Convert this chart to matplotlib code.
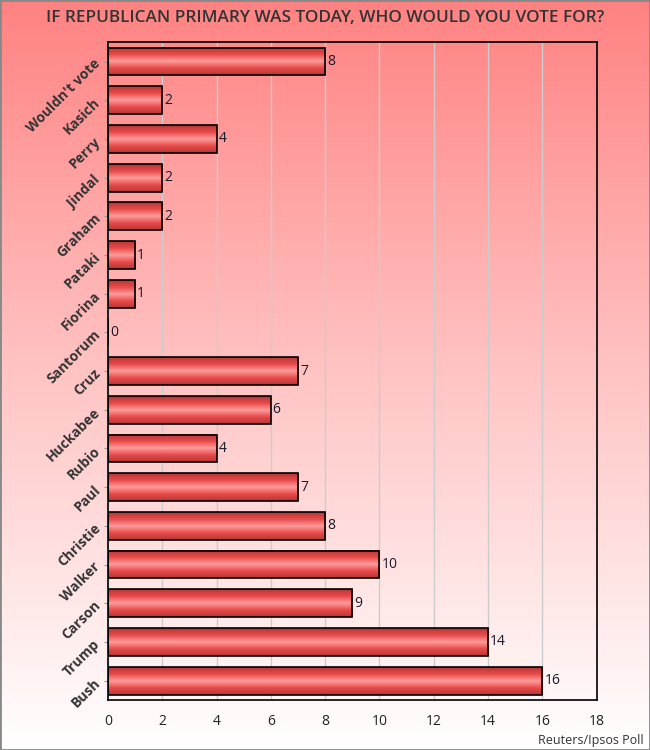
import numpy as np
import matplotlib
matplotlib.use('Agg')
import matplotlib.pyplot as plt
from matplotlib.colors import LinearSegmentedColormap

# Poll data, top to bottom as shown
candidates = ["Wouldn't vote", 'Kasich', 'Perry', 'Jindal', 'Graham', 'Pataki', 'Fiorina',
              'Santorum', 'Cruz', 'Huckabee', 'Rubio', 'Paul', 'Christie', 'Walker',
              'Carson', 'Trump', 'Bush']
votes = [8, 2, 4, 2, 2, 1, 1, 0, 7, 6, 4, 7, 8, 10, 9, 14, 16]
x_ticks = [0, 2, 4, 6, 8, 10, 12, 14, 16, 18]

plt.rcParams['font.family'] = ['Open Sans', 'DejaVu Sans']

fig = plt.figure(figsize=(6.5, 7.5), dpi=100)

# background gradient over the whole figure
bg = fig.add_axes([0, 0, 1, 1], zorder=0)
bg_cmap = LinearSegmentedColormap.from_list('bg', ['#ff8282', '#ffc4c4', '#ffffff'])
grad = np.linspace(0, 1, 256).reshape(-1, 1)
bg.imshow(grad, aspect='auto', cmap=bg_cmap, extent=[0, 1, 0, 1], origin='upper')
bg.set_axis_off()
fig.patches.append(plt.Rectangle((0, 0), 1, 1, transform=fig.transFigure,
                                 fill=False, edgecolor='#888888', linewidth=2))

ax = fig.add_axes([0.166, 0.0667, 0.752, 0.877], zorder=1)
ax.patch.set_alpha(0)

bar_cmap = LinearSegmentedColormap.from_list(
    'bar', ['#b83636', '#e84a4a', '#ff9c9c', '#e84a4a', '#b83636'])
bar_grad = np.linspace(0, 1, 64).reshape(-1, 1)
h = 0.72
ypos = np.arange(len(candidates))
for y, v in zip(ypos, votes):
    if v > 0:
        ax.imshow(bar_grad, aspect='auto', cmap=bar_cmap,
                  extent=[0, v, y + h / 2, y - h / 2], origin='upper', zorder=2)
    ax.text(v + 0.07, y, str(v), va='center', ha='left', fontsize=10, color='#1a1a2a', zorder=4)

ax.barh(ypos, votes, height=h, facecolor='none', edgecolor='black', linewidth=1.2, zorder=3)

ax.set_xlim(0, 18)
ax.set_ylim(len(candidates) - 0.5, -0.5)
ax.set_xticks(x_ticks)
ax.set_xticklabels([str(t) for t in x_ticks], fontsize=10, color='#222222')
ax.set_yticks(ypos)
ax.set_yticklabels(candidates, rotation=45, ha='right', va='center', rotation_mode='anchor',
                   fontsize=10, fontweight='bold', color='#333333')
ax.tick_params(axis='x', length=0, pad=10)
ax.tick_params(axis='y', length=3, color='#999999', pad=4)
ax.grid(axis='x', color='#cccccc', linewidth=1, zorder=0)
ax.set_axisbelow(True)
for s in ax.spines.values():
    s.set_color('black')
    s.set_linewidth(1.2)

fig.text(0.5, 0.976, 'IF REPUBLICAN PRIMARY WAS TODAY, WHO WOULD YOU VOTE FOR?',
         ha='center', va='center', fontsize=12.3, fontweight='semibold', color='#333333')
fig.text(0.99, 0.004, 'Reuters/Ipsos Poll', ha='right', va='bottom', fontsize=9, color='#333333')

fig.savefig('out.png', dpi=100)
